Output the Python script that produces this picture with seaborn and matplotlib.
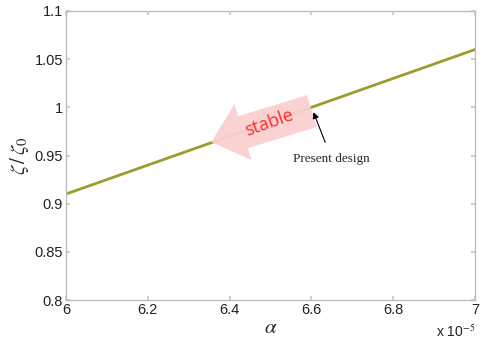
import numpy as np
import pandas as pd
import seaborn as sns
import matplotlib.pyplot as plt
from matplotlib.patches import FancyArrowPatch

# data (alpha in units of 1e-5)
alpha = [6.0, 7.0]
zeta_ratio = [0.91, 1.06]
xticks = [6, 6.2, 6.4, 6.6, 6.8, 7]
xtick_labels = ["6", "6.2", "6.4", "6.6", "6.8", "7"]
yticks = [0.8, 0.85, 0.9, 0.95, 1.0, 1.05, 1.1]
ytick_labels = ["0.8", "0.85", "0.9", "0.95", "1", "1.05", "1.1"]
design_point = (6.605, 0.995)

sns.set_theme(style="white")
plt.rcParams['font.family'] = ['Liberation Sans', 'DejaVu Sans']
plt.rcParams['mathtext.fontset'] = 'stix'

df = pd.DataFrame({"alpha": alpha, "zeta": zeta_ratio})

fig = plt.figure(figsize=(4.92, 3.43), dpi=100)
ax = fig.add_axes([66 / 492, 1 - 300 / 343, (475 - 66) / 492, (300 - 11) / 343])
sns.lineplot(data=df, x="alpha", y="zeta", ax=ax, color="#9c9b2c", linewidth=2)

ax.set_xlim(6, 7)
ax.set_ylim(0.8, 1.1)
ax.set_xticks(xticks)
ax.set_xticklabels(xtick_labels)
ax.set_yticks(yticks)
ax.set_yticklabels(ytick_labels)
ax.tick_params(direction="in", length=3, color="#c8c8c8", labelsize=10.5,
               labelcolor="#222222", top=True, right=True, bottom=True, left=True, pad=2)
for s in ax.spines.values():
    s.set_color("#bdbdbd")
    s.set_linewidth(1)

ax.set_xlabel(r"$\alpha$", fontsize=15, labelpad=1)
ax.set_ylabel(r"$\zeta\,/\,\zeta_0$", fontsize=15, labelpad=3)
ax.text(1.0, -0.08, r"x 10$^{-5}$", transform=ax.transAxes, ha="right", va="top",
        fontsize=10, color="#222222")

# big "stable" arrow
big = FancyArrowPatch((6.601, 0.9962), (6.355, 0.964),
                      arrowstyle="simple,head_length=24,head_width=42,tail_width=24",
                      mutation_scale=1, shrinkA=0, shrinkB=0,
                      fc="#fbd0d0", ec="none", alpha=0.95, zorder=5)
ax.add_patch(big)
ax.text(6.497, 0.984, "stable", color="#ff2a2a", fontsize=13, rotation=19.5,
        ha="center", va="center", family=["Open Sans", "DejaVu Sans"], zorder=6)

ax.annotate("Present design", xy=design_point, xytext=(6.65, 0.946),
            fontsize=9.5, family=["Liberation Serif", "DejaVu Serif"], ha="center", va="center",
            arrowprops=dict(arrowstyle="-|>", color="black", lw=0.8, mutation_scale=9,
                            shrinkA=6, shrinkB=0), zorder=7)

fig.savefig("out.png", dpi=100)
